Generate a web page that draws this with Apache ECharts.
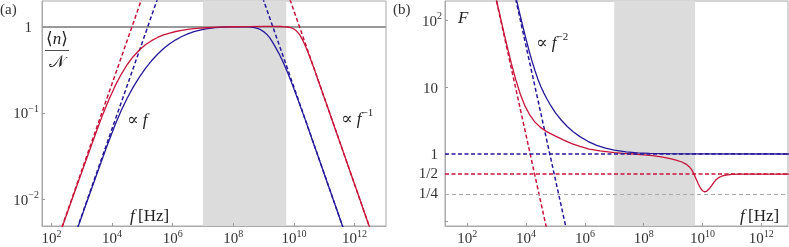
<!DOCTYPE html>
<html><head><meta charset="utf-8">
<script src="https://cdn.jsdelivr.net/npm/echarts@6/dist/echarts.min.js"></script>
<style>html,body{margin:0;padding:0;background:#fff}#c{width:789px;height:247px}</style>
</head><body><div id="c"></div>
<script>
// ---- data: pairs of [log10 f (Hz), log10 value] ----
// panel (a): <n>/N
const redA = [[2.20,-2.47],[2.60,-2.07],[3.00,-1.68],[3.30,-1.39],[3.50,-1.195],[3.70,-1.01],[3.90,-0.84],[4.10,-0.687],[4.30,-0.553],[4.50,-0.44],[4.70,-0.347],[4.90,-0.272],[5.10,-0.212],[5.30,-0.165],[5.50,-0.128],[5.70,-0.099],[5.90,-0.0765],[6.10,-0.059],[6.30,-0.0455],[6.50,-0.035],[6.70,-0.027],[6.90,-0.021],[7.10,-0.016],[7.50,-0.009],[8.00,-0.004],[8.50,-0.002],[9.00,-0.001],[9.30,-0.001],[9.60,-0.0016],[9.80,-0.0071],[9.90,-0.0149],[10.00,-0.0299],[10.10,-0.0573],[10.20,-0.1016],[10.30,-0.1646],[10.40,-0.2425],[10.50,-0.331],[10.60,-0.4256],[10.70,-0.5218],[10.80,-0.621],[10.90,-0.7205],[11.00,-0.8202],[11.50,-1.32],[12.00,-1.82],[12.70,-2.52]];
const blueA = [[2.70,-2.49],[3.10,-2.09],[3.50,-1.70],[3.80,-1.41],[4.10,-1.135],[4.30,-0.97],[4.50,-0.826],[4.70,-0.698],[4.90,-0.585],[5.10,-0.485],[5.30,-0.397],[5.50,-0.321],[5.70,-0.256],[5.90,-0.201],[6.10,-0.155],[6.30,-0.117],[6.50,-0.086],[6.70,-0.061],[6.90,-0.042],[7.10,-0.028],[7.40,-0.0145],[7.80,-0.006],[8.20,-0.003],[8.50,-0.004],[8.60,-0.008],[8.70,-0.014],[8.80,-0.024],[8.90,-0.038],[9.00,-0.06],[9.10,-0.09],[9.20,-0.13],[9.30,-0.185],[9.40,-0.245],[9.50,-0.308],[9.60,-0.38],[9.70,-0.458],[9.80,-0.541],[9.90,-0.629],[10.00,-0.72],[10.20,-0.909],[10.40,-1.102],[10.60,-1.302],[10.80,-1.501],[11.00,-1.70],[11.50,-2.20],[11.90,-2.60]];
const redA_lowAsym  = [[2.20,-2.46],[5.05,0.39]];
const redA_highAsym = [[9.80,0.38],[12.70,-2.52]];
const blueA_lowAsym  = [[2.70,-2.48],[5.55,0.37]];
const blueA_highAsym = [[8.90,0.40],[11.80,-2.50]];
// panel (b): F
const redB = [[2.95,2.384],[3.05,2.189],[3.20,1.90],[3.35,1.619],[3.50,1.352],[3.65,1.109],[3.80,0.898],[3.95,0.728],[4.13,0.58],[4.30,0.477],[4.50,0.394],[4.70,0.335],[5.00,0.268],[5.265,0.211],[5.55,0.154],[5.83,0.113],[6.15,0.074],[6.51,0.045],[7.00,0.02],[7.30,0.01],[7.65,0.0],[8.00,-0.012],[8.30,-0.024],[8.60,-0.042],[8.90,-0.07],[9.10,-0.092],[9.30,-0.12],[9.45,-0.155],[9.55,-0.19],[9.63,-0.235],[9.70,-0.29],[9.78,-0.37],[9.86,-0.45],[9.93,-0.51],[10.00,-0.55],[10.08,-0.566],[10.15,-0.555],[10.22,-0.525],[10.30,-0.48],[10.37,-0.435],[10.45,-0.39],[10.55,-0.355],[10.65,-0.333],[10.80,-0.315],[11.00,-0.306],[11.30,-0.302],[11.80,-0.301],[13.00,-0.301]];
const blueB = [[3.60,2.44],[3.70,2.255],[3.80,2.07],[3.90,1.89],[4.00,1.715],[4.10,1.545],[4.20,1.39],[4.30,1.25],[4.40,1.12],[4.50,1.01],[4.60,0.915],[4.70,0.83],[4.85,0.715],[5.00,0.615],[5.20,0.505],[5.40,0.412],[5.60,0.333],[5.83,0.26],[6.10,0.19],[6.40,0.13],[6.70,0.088],[7.00,0.057],[7.40,0.033],[7.80,0.018],[8.20,0.010],[8.80,0.004],[9.50,0.001],[13.00,0]];
const redB_asym  = [[2.90,2.476],[4.75,-1.224]];
const blueB_asym = [[3.55,2.51],[5.45,-1.29]];
const levelsB = [1, 0.5, 0.25];          // horizontal reference levels in (b)
const levelLabelsB = ['', '1/2', '1/4'];
const bandHz = [1e7, 5.6e9];            // shaded frequency band
const yTickLabelsB = {'2':'10²','1':'10','0':'1','-1':''};

const RED = '#c8143a', BLUE = '#25199a', FONT = 'Liberation Serif, DejaVu Serif, serif';
const P = a => a.map(([lf, ly]) => [Math.pow(10, lf), Math.pow(10, ly)]);

const richLab = {
  b: {fontSize: 15, fontFamily: FONT, color: '#333', lineHeight: 18, verticalAlign: 'bottom'},
  p: {fontSize: 15, fontFamily: FONT, color: '#333', lineHeight: 18, verticalAlign: 'bottom', padding: [0, 7, 0, 0]},
  q: {fontSize: 15, fontFamily: FONT, color: '#333', lineHeight: 18, verticalAlign: 'bottom', padding: [0, 4, 0, 0]},
  s: {fontSize: 10, fontFamily: FONT, color: '#333', lineHeight: 10, verticalAlign: 'top'}
};
const expOf = v => Math.round(Math.log10(v));
const xFmt = v => '{b|10}{s|' + expOf(v) + '}';

function xAxis(gi, lmin, lmax) {
  return {type: 'log', logBase: 100, gridIndex: gi, min: Math.pow(10, lmin), max: Math.pow(10, lmax),
    axisLine: {show: true, lineStyle: {color: '#aaa', width: 1}},
    axisTick: {show: true, inside: true, length: 3, lineStyle: {color: '#999'}},
    splitLine: {show: false}, minorTick: {show: false},
    axisLabel: {margin: 3, formatter: xFmt, rich: richLab, showMinLabel: false, showMaxLabel: false}};
}
function yAxis(gi, lmin, lmax, fmt) {
  return {type: 'log', logBase: 10, gridIndex: gi, min: Math.pow(10, lmin), max: Math.pow(10, lmax),
    axisLine: {show: true, lineStyle: {color: '#aaa', width: 1}},
    axisTick: {show: true, inside: true, length: 3, lineStyle: {color: '#999'}},
    splitLine: {show: false},
    axisLabel: {margin: 3, formatter: fmt, rich: richLab, showMinLabel: false, showMaxLabel: false}};
}
function line(name, data, color, gi, dashed, extra) {
  return Object.assign({name, type: 'line', xAxisIndex: gi, yAxisIndex: gi, data: P(data),
    showSymbol: false, symbol: 'none', animation: false, silent: true, clip: true,
    lineStyle: {color, width: dashed ? 1.5 : 1.3, type: dashed ? [4, 2.5] : 'solid'}}, extra || {});
}
const band = {silent: true, z: 0, itemStyle: {color: '#dcdcdc'}, label: {show: false},
  data: [[{xAxis: bandHz[0]}, {xAxis: bandHz[1]}]]};
const mathRich = {
  n: {fontSize: 17, fontFamily: FONT, lineHeight: 20, verticalAlign: 'bottom', fill: '#222'},
  i: {fontStyle: 'italic', fontSize: 17, fontFamily: FONT, lineHeight: 20, verticalAlign: 'bottom', fill: '#222'},
  s: {fontSize: 11, fontFamily: FONT, lineHeight: 11, verticalAlign: 'top', fill: '#222'}
};
const txt = (x, y, text, align) => ({type: 'text', x, y,
  style: {text, align: align || 'left', verticalAlign: 'middle', fill: '#222', rich: mathRich}});

const option = {
  animation: false,
  grid: [{left: 42, top: 1, width: 344, height: 228, show: true, borderColor: '#aaa', borderWidth: 1},
         {left: 445, top: 1, width: 343, height: 228, show: true, borderColor: '#aaa', borderWidth: 1}],
  xAxis: [xAxis(0, 1.686, 13.04), xAxis(1, 1.24, 12.91)],
  yAxis: [
    yAxis(0, -2.304, 0.293, v => { const e = expOf(v); return e === 0 ? '{p|1}' : '{b|10}{s|−' + (-e) + '}'; }),
    yAxis(1, -1.078, 2.29, v => { const e = expOf(v); const t = yTickLabelsB[String(e)];
      if (!t) return ''; return e === 2 ? '{b|10}{s|2}' : '{q|' + t + '}'; })
  ],
  series: [
    line('redA_low', redA_lowAsym, RED, 0, true, {
      markArea: band,
      markLine: {silent: true, z: 1, symbol: 'none', label: {show: false},
        lineStyle: {color: '#999', width: 2, type: 'solid'}, data: [{yAxis: 1}]}}),
    line('redA_high', redA_highAsym, RED, 0, true),
    line('blueA_low', blueA_lowAsym, BLUE, 0, true),
    line('blueA_high', blueA_highAsym, BLUE, 0, true),
    line('blueA', blueA, BLUE, 0, false),
    line('redA', redA, RED, 0, false),
    line('redB_asym', redB_asym, RED, 1, true, {markArea: band}),
    line('blueB_asym', blueB_asym, BLUE, 1, true),
    line('blueB', blueB, BLUE, 1, false, {
      markLine: {silent: true, symbol: 'none', label: {show: false},
        lineStyle: {color: BLUE, width: 1.5, type: [4, 2.5]}, data: [{yAxis: levelsB[0]}]}}),
    line('redB', redB, RED, 1, false, {
      markLine: {silent: true, symbol: 'none',
        data: [
          {yAxis: levelsB[1], lineStyle: {color: RED, width: 1.5, type: [4, 2.5]},
           label: {show: true, position: 'start', distance: 7, formatter: levelLabelsB[1], color: '#333', fontFamily: FONT, fontSize: 15}},
          {yAxis: levelsB[2], lineStyle: {color: '#aaa', width: 1, type: [4, 3]},
           label: {show: true, position: 'start', distance: 7, formatter: levelLabelsB[2], color: '#333', fontFamily: FONT, fontSize: 15}}
        ]}})
  ],
  graphic: [
    {type: 'text', x: 0, y: 10, style: {text: '(a)', font: '15px ' + FONT, fill: '#333', align: 'left', verticalAlign: 'middle'}},
    {type: 'text', x: 393, y: 10, style: {text: '(b)', font: '15px ' + FONT, fill: '#333', align: 'left', verticalAlign: 'middle'}},
    txt(57, 38, '{n|⟨}{i|n}{n|⟩}', 'center'),
    {type: 'line', shape: {x1: 45, y1: 50.5, x2: 69, y2: 50.5}, style: {stroke: '#222', lineWidth: 0.8}},
    txt(57, 61, '{n|𝒩}', 'center'),
    txt(127, 119, '{n|∝ }{i|f}'),
    txt(341, 118, '{n|∝ }{i|f}{s|−1}'),
    txt(536, 42, '{n|∝ }{i|f}{s|−2}'),
    txt(458, 17, '{i|F}'),
    txt(130, 215, '{i|f} {n|[Hz]}'),
    txt(740, 215, '{i|f} {n|[Hz]}')
  ]
};
echarts.init(document.getElementById('c'), null, {renderer: 'canvas'}).setOption(option);
</script></body></html>
